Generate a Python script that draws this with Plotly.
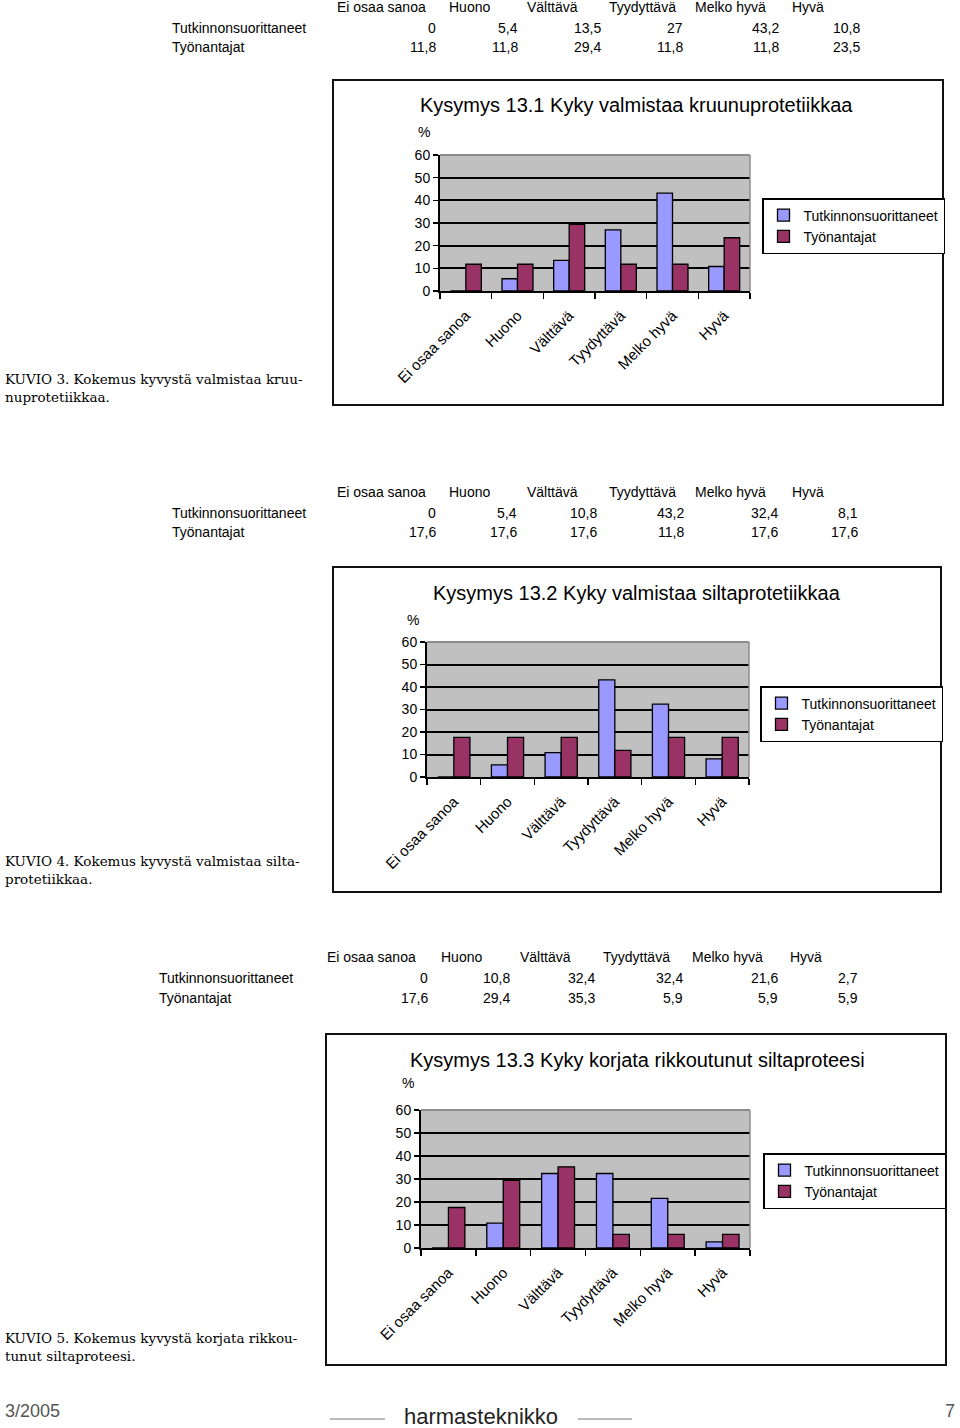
import plotly.graph_objects as go

W, H = 960, 1428

# ---------------- data ----------------
categories = ["Ei osaa sanoa", "Huono", "Välttävä", "Tyydyttävä", "Melko hyvä", "Hyvä"]
series_names = ["Tutkinnonsuorittaneet", "Työnantajat"]

titles = [
    "Kysymys 13.1 Kyky valmistaa kruunuprotetiikkaa",
    "Kysymys 13.2 Kyky valmistaa siltaprotetiikkaa",
    "Kysymys 13.3 Kyky korjata rikkoutunut siltaproteesi",
]
captions = [
    "KUVIO 3. Kokemus kyvystä valmistaa kruu-<br>nuprotetiikkaa.",
    "KUVIO 4. Kokemus kyvystä valmistaa silta-<br>protetiikkaa.",
    "KUVIO 5. Kokemus kyvystä korjata rikkou-<br>tunut siltaproteesi.",
]

tutk_1 = [0, 5.4, 13.5, 27, 43.2, 10.8]
tyon_1 = [11.8, 11.8, 29.4, 11.8, 11.8, 23.5]
tutk_2 = [0, 5.4, 10.8, 43.2, 32.4, 8.1]
tyon_2 = [17.6, 17.6, 17.6, 11.8, 17.6, 17.6]
tutk_3 = [0, 10.8, 32.4, 32.4, 21.6, 2.7]
tyon_3 = [17.6, 29.4, 35.3, 5.9, 5.9, 5.9]

y_ticks = [0, 10, 20, 30, 40, 50, 60]

# ---------------- helpers ----------------
def px(x):
    return x / W

def py(y):
    return 1 - y / H

def fmt(v):
    return ("%g" % v).replace(".", ",")

SANS = "Liberation Sans, Arial, sans-serif"
SERIF = "DejaVu Serif, Liberation Serif, serif"
BLUE = "#9999FF"
MAROON = "#993366"

charts = [
    dict(tutk=tutk_1, tyon=tyon_1, title=titles[0], caption=captions[0],
         box=(333, 80, 943, 405), plot=(440, 155, 750, 291), title_y=105, title_x=636,
         pct=(424, 132), legend=(762, 198), caption_y=369,
         tab_y=(7, 28, 47), tab_lx=170,
         head_x=[335, 447, 525, 607, 693, 790],
         val_x=[438, 520, 603, 685, 781, 862]),
    dict(tutk=tutk_2, tyon=tyon_2, title=titles[1], caption=captions[1],
         box=(333, 567, 941, 892), plot=(427, 642, 749, 777), title_y=593, title_x=637,
         pct=(413, 620), legend=(760, 686), caption_y=851,
         tab_y=(492, 513, 532), tab_lx=170,
         head_x=[335, 447, 525, 607, 693, 790],
         val_x=[438, 519, 599, 686, 780, 860]),
    dict(tutk=tutk_3, tyon=tyon_3, title=titles[2], caption=captions[2],
         box=(326, 1034, 946, 1365), plot=(421, 1110, 750, 1248), title_y=1060, title_x=637,
         pct=(408, 1083), legend=(763, 1153), caption_y=1328,
         tab_y=(957, 978, 998), tab_lx=157,
         head_x=[325, 439, 518, 601, 690, 788],
         val_x=[430, 512, 597, 685, 780, 860]),
]

fig = go.Figure()
annotations = []
shapes = []
layout_extra = {}

for i, c in enumerate(charts):
    n = "" if i == 0 else str(i + 1)
    xa, ya = "x" + n, "y" + n
    lg = "legend" + n
    for name, vals, col in [(series_names[0], c["tutk"], BLUE), (series_names[1], c["tyon"], MAROON)]:
        fig.add_trace(go.Bar(
            x=categories, y=vals, name=name, xaxis=xa, yaxis=ya, legend=lg,
            marker=dict(color=col, line=dict(color="black", width=1.3)),
            hoverinfo="skip",
        ))
    x0, y0, x1, y1 = c["plot"]
    layout_extra["xaxis" + n] = dict(
        domain=[px(x0), px(x1)], anchor=ya, type="category", automargin=False,
        showline=True, linecolor="black", linewidth=2,
        ticks="outside", tickson="boundaries", ticklen=6, tickcolor="black", tickwidth=1.5,
        tickangle=-45, ticklabelstandoff=8,
        tickfont=dict(family=SANS, size=15, color="black"),
        showgrid=False, fixedrange=True,
    )
    layout_extra["yaxis" + n] = dict(
        domain=[py(y1), py(y0)], anchor=xa, range=[0, 60], automargin=False,
        tickvals=y_ticks, ticktext=[str(t) for t in y_ticks],
        showline=True, linecolor="black", linewidth=2,
        ticks="outside", ticklen=5, tickcolor="black", tickwidth=1.5,
        showgrid=True, gridcolor="black", gridwidth=2, zeroline=False,
        tickfont=dict(family=SANS, size=14, color="black"), fixedrange=True,
    )
    # plot-area background
    shapes.append(dict(type="rect", xref="paper", yref="paper", layer="below",
                       x0=px(x0), x1=px(x1), y0=py(y1), y1=py(y0),
                       fillcolor="#C0C0C0", line=dict(width=0)))
    shapes.append(dict(type="line", xref="paper", yref="paper",
                       x0=px(x0), x1=px(x1), y0=py(y0), y1=py(y0),
                       line=dict(color="#8c8c8c", width=2)))
    shapes.append(dict(type="line", xref="paper", yref="paper",
                       x0=px(x1), x1=px(x1), y0=py(y1), y1=py(y0),
                       line=dict(color="#8c8c8c", width=1.5)))
    # outer chart box
    bx0, by0, bx1, by1 = c["box"]
    shapes.append(dict(type="rect", xref="paper", yref="paper",
                       x0=px(bx0), x1=px(bx1), y0=py(by1), y1=py(by0),
                       line=dict(color="#111", width=2)))
    # legend
    lx, ly = c["legend"]
    layout_extra[lg] = dict(
        x=px(lx), y=py(ly), xanchor="left", yanchor="top",
        bgcolor="white", bordercolor="black", borderwidth=1.5,
        font=dict(family=SANS, size=14, color="black"),
        tracegroupgap=0, itemwidth=30,
    )
    # title
    annotations.append(dict(text=c["title"], x=px(c["title_x"]), y=py(c["title_y"]),
                            xref="paper", yref="paper", xanchor="center", yanchor="middle",
                            showarrow=False, font=dict(family=SANS, size=20, color="black")))
    annotations.append(dict(text="%", x=px(c["pct"][0]), y=py(c["pct"][1]),
                            xref="paper", yref="paper", xanchor="center", yanchor="middle",
                            showarrow=False, font=dict(family=SANS, size=14, color="black")))
    # caption
    annotations.append(dict(text=c["caption"], x=px(3), y=py(c["caption_y"]),
                            xref="paper", yref="paper", xanchor="left", yanchor="top",
                            align="left", showarrow=False,
                            font=dict(family=SERIF, size=13.5, color="black")))
    # data table
    hy, r1, r2 = c["tab_y"]
    for cat, hx in zip(categories, c["head_x"]):
        annotations.append(dict(text=cat, x=px(hx), y=py(hy), xref="paper", yref="paper",
                                xanchor="left", yanchor="middle", showarrow=False,
                                font=dict(family=SANS, size=14, color="black")))
    for name, ry, vals in [(series_names[0], r1, c["tutk"]), (series_names[1], r2, c["tyon"])]:
        annotations.append(dict(text=name, x=px(c["tab_lx"]), y=py(ry), xref="paper", yref="paper",
                                xanchor="left", yanchor="middle", showarrow=False,
                                font=dict(family=SANS, size=14, color="black")))
        for v, vx in zip(vals, c["val_x"]):
            annotations.append(dict(text=fmt(v), x=px(vx), y=py(ry), xref="paper", yref="paper",
                                    xanchor="right", yanchor="middle", showarrow=False,
                                    font=dict(family=SANS, size=14, color="black")))

# footer
annotations.append(dict(text="3/2005", x=px(3), y=py(1411), xref="paper", yref="paper",
                        xanchor="left", yanchor="middle", showarrow=False,
                        font=dict(family=SANS, size=18, color="#555")))
annotations.append(dict(text="7", x=px(957), y=py(1411), xref="paper", yref="paper",
                        xanchor="right", yanchor="middle", showarrow=False,
                        font=dict(family=SANS, size=18, color="#555")))
annotations.append(dict(text="harmasteknikko", x=px(481), y=py(1416), xref="paper", yref="paper",
                        xanchor="center", yanchor="middle", showarrow=False,
                        font=dict(family=SANS, size=22, color="#222")))
for a, b in [(330, 385), (578, 632)]:
    shapes.append(dict(type="line", xref="paper", yref="paper",
                       x0=px(a), x1=px(b), y0=py(1419), y1=py(1419),
                       line=dict(color="#777", width=1)))

fig.update_layout(
    width=W, height=H, margin=dict(l=0, r=0, t=0, b=0, pad=0, autoexpand=False),
    paper_bgcolor="white", plot_bgcolor="rgba(0,0,0,0)",
    barmode="group", bargap=0.4, bargroupgap=0,
    annotations=annotations, shapes=shapes, **layout_extra,
)

fig.write_html(
    "out.html",
    config={"displayModeBar": False, "staticPlot": True},
    post_script="document.body.style.margin='0';document.body.style.padding='0';"
                "document.body.style.overflow='hidden';",
)
